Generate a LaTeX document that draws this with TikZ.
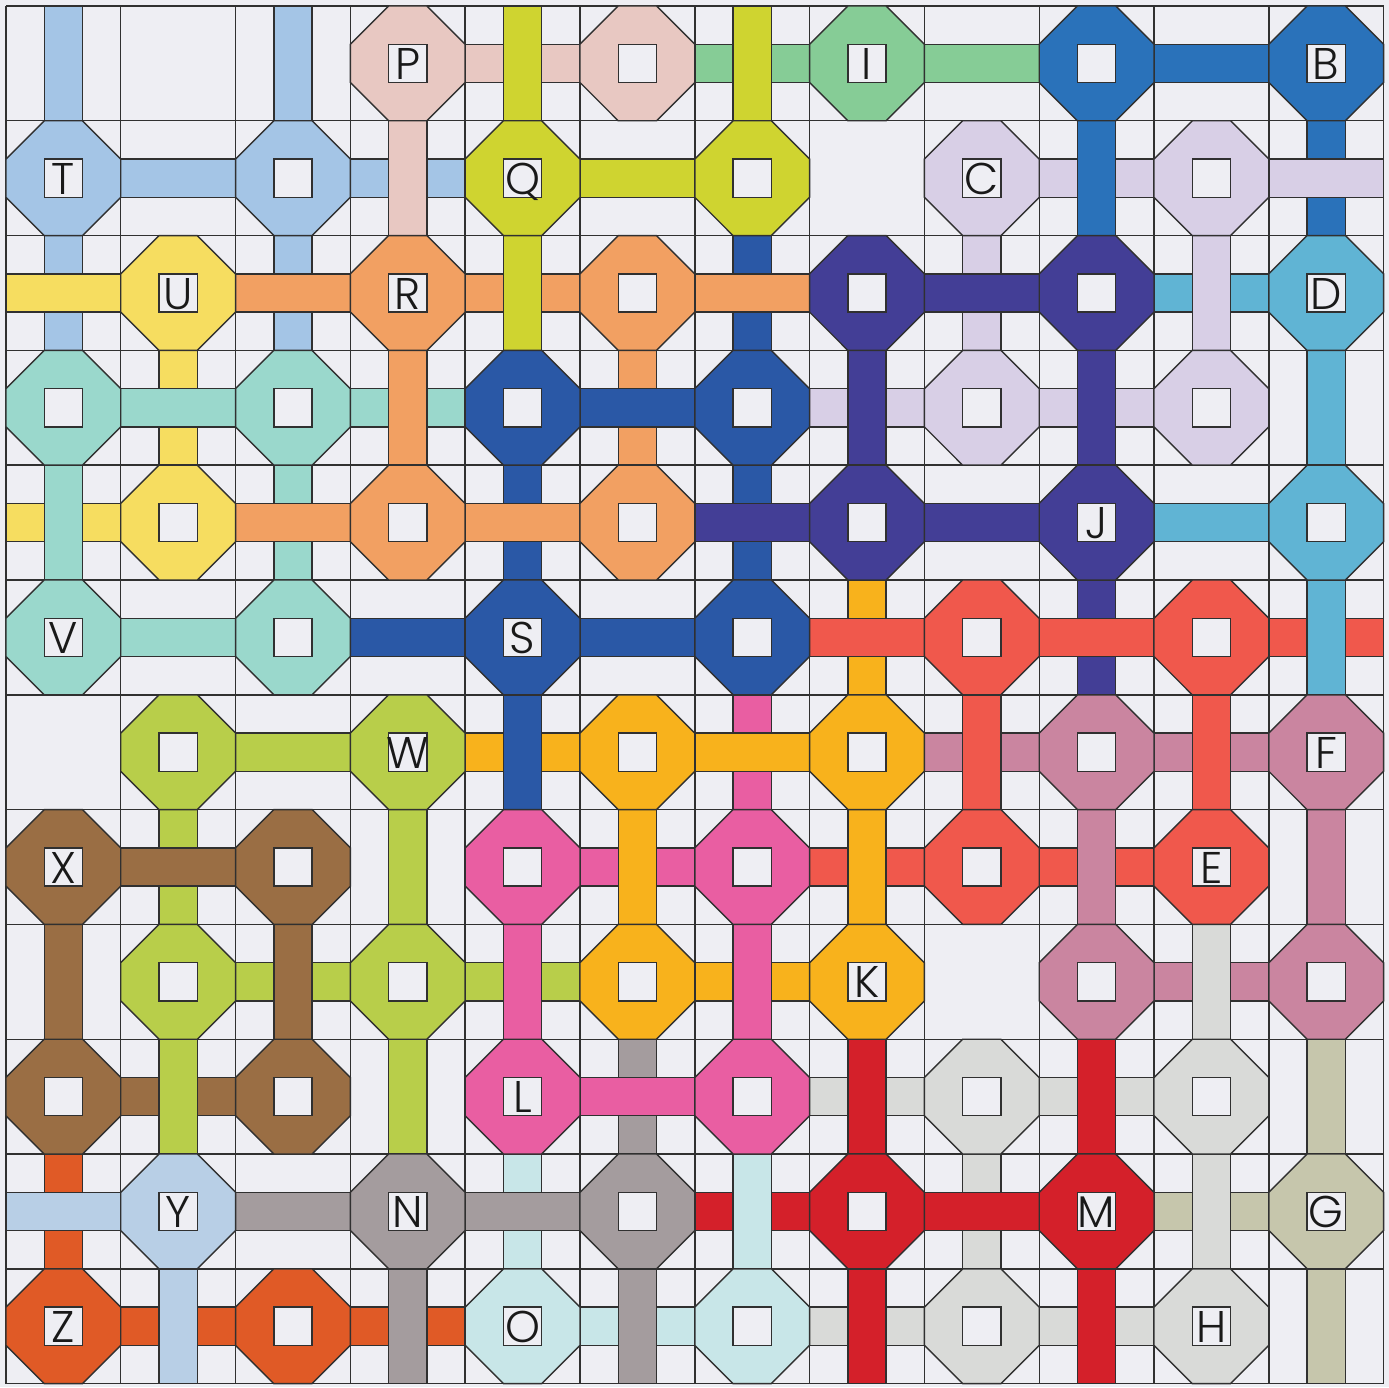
\documentclass[tikz,border=0pt]{standalone}
\usepackage{fontspec}
\IfFontExistsTF{Poppins Light}{\setmainfont{Poppins Light}}{\setmainfont{Poppins}}
\definecolor{bg}{HTML}{EEEEF3}
\definecolor{lineclr}{HTML}{303030}
\definecolor{pblue}{HTML}{A4C5E6}
\definecolor{yel}{HTML}{F6DD60}
\definecolor{ora}{HTML}{F2A062}
\definecolor{ppink}{HTML}{E8C8C2}
\definecolor{yg}{HTML}{CFD430}
\definecolor{lgreen}{HTML}{86CC96}
\definecolor{mblue}{HTML}{2A72BA}
\definecolor{lav}{HTML}{D8CFE6}
\definecolor{sky}{HTML}{60B4D4}
\definecolor{indigo}{HTML}{433E96}
\definecolor{dblue}{HTML}{2A58A6}
\definecolor{mint}{HTML}{9AD8CC}
\definecolor{red}{HTML}{F0584C}
\definecolor{gold}{HTML}{F8B21C}
\definecolor{mauve}{HTML}{CA85A0}
\definecolor{lime}{HTML}{B8CE4A}
\definecolor{brown}{HTML}{9A6E44}
\definecolor{hpink}{HTML}{E95EA2}
\definecolor{lgray}{HTML}{D9DAD8}
\definecolor{crim}{HTML}{D4202A}
\definecolor{taupe}{HTML}{A49C9E}
\definecolor{pcyan}{HTML}{C8E6E8}
\definecolor{pblue2}{HTML}{B8CFE6}
\definecolor{olive}{HTML}{C6C6AC}
\definecolor{zora}{HTML}{E05A26}
\tikzset{
  outl/.style={draw=lineclr, line width=0.35pt, line join=miter},
  gridln/.style={draw=lineclr, line width=0.35pt},
  lbl/.style={font=\fontsize{11}{11}\selectfont, text=black!90, inner sep=0pt, anchor=base},
}
\newcommand\mkH[3]{\filldraw[outl, fill=#3] (#1,-#2-1/3) rectangle (#1+1,-#2-2/3);}
\newcommand\mkV[3]{\filldraw[outl, fill=#3] (#1+1/3,-#2) rectangle (#1+2/3,-#2-1);}
\newcommand\mkO[3]{%
  \filldraw[outl, fill=#3] (#1+1/3,-#2) -- (#1+2/3,-#2) -- (#1+1,-#2-1/3) -- (#1+1,-#2-2/3)
    -- (#1+2/3,-#2-1) -- (#1+1/3,-#2-1) -- (#1,-#2-2/3) -- (#1,-#2-1/3) -- cycle;
  \filldraw[outl, fill=bg] (#1+1/3,-#2-1/3) rectangle (#1+2/3,-#2-2/3);
  \coordinate (o-#1-#2) at (#1+0.5,-#2-0.5);}
\begin{document}
\begin{tikzpicture}
\useasboundingbox (-0.052,0.052) rectangle (12.047,-12.03);
\fill[bg] (-0.052,0.052) rectangle (12.047,-12.03);
\draw[gridln] (0,-12) grid (12,0);
% single bars
\foreach \c/\r/\k in {8/0/lgreen,10/0/mblue,1/1/pblue,5/1/yg,8/4/indigo,10/4/sky,1/5/mint,3/5/dblue,5/5/dblue,2/6/lime,2/10/taupe}
  {\mkH{\c}{\r}{\k}}
\foreach \c/\r/\k in {0/0/pblue,2/0/pblue,11/3/sky,3/7/lime,11/7/mauve,0/8/brown,3/9/lime,11/9/olive,11/11/olive}
  {\mkV{\c}{\r}{\k}}
% crossings: horizontal below, vertical on top
\foreach \c/\r/\h/\v in {4/0/ppink/yg,6/0/lgreen/yg,3/1/pblue/ppink,9/1/lav/mblue,4/2/ora/yg,10/2/sky/lav,
  3/3/mint/ora,7/3/lav/indigo,9/3/lav/indigo,0/4/yel/mint,11/5/red/sky,4/6/gold/dblue,8/6/mauve/red,
  10/6/mauve/red,5/7/hpink/gold,7/7/red/gold,9/7/red/mauve,2/8/lime/brown,4/8/lime/hpink,6/8/gold/hpink,
  10/8/mauve/lgray,1/9/brown/lime,7/9/lgray/crim,9/9/lgray/crim,6/10/crim/pcyan,10/10/olive/lgray,
  1/11/zora/pblue2,3/11/zora/taupe,5/11/pcyan/taupe,7/11/lgray/crim,9/11/lgray/crim}
  {\mkH{\c}{\r}{\h}\mkV{\c}{\r}{\v}}
% crossings: vertical below, horizontal on top
\foreach \c/\r/\v/\h in {11/1/mblue/lav,0/2/pblue/yel,2/2/pblue/ora,6/2/dblue/ora,8/2/lav/indigo,1/3/yel/mint,
  5/3/ora/dblue,2/4/mint/ora,4/4/dblue/ora,6/4/dblue/indigo,7/5/gold/red,9/5/indigo/red,6/6/hpink/gold,
  1/7/lime/brown,5/9/taupe/hpink,0/10/zora/pblue2,4/10/pcyan/taupe,8/10/lgray/crim}
  {\mkV{\c}{\r}{\v}\mkH{\c}{\r}{\h}}
% octagons
\foreach \c/\r/\k in {3/0/ppink,5/0/ppink,7/0/lgreen,9/0/mblue,11/0/mblue,
  0/1/pblue,2/1/pblue,4/1/yg,6/1/yg,8/1/lav,10/1/lav,
  1/2/yel,3/2/ora,5/2/ora,7/2/indigo,9/2/indigo,11/2/sky,
  0/3/mint,2/3/mint,4/3/dblue,6/3/dblue,8/3/lav,10/3/lav,
  1/4/yel,3/4/ora,5/4/ora,7/4/indigo,9/4/indigo,11/4/sky,
  0/5/mint,2/5/mint,4/5/dblue,6/5/dblue,8/5/red,10/5/red,
  1/6/lime,3/6/lime,5/6/gold,7/6/gold,9/6/mauve,11/6/mauve,
  0/7/brown,2/7/brown,4/7/hpink,6/7/hpink,8/7/red,10/7/red,
  1/8/lime,3/8/lime,5/8/gold,7/8/gold,9/8/mauve,11/8/mauve,
  0/9/brown,2/9/brown,4/9/hpink,6/9/hpink,8/9/lgray,10/9/lgray,
  1/10/pblue2,3/10/taupe,5/10/taupe,7/10/crim,9/10/crim,11/10/olive,
  0/11/zora,2/11/zora,4/11/pcyan,6/11/pcyan,8/11/lgray,10/11/lgray}
  {\mkO{\c}{\r}{\k}}
% labels
\node[lbl] (lab-P) at (3.5,-0.64) {P};
\node[lbl] (lab-I) at (7.5,-0.64) {I};
\node[lbl] (lab-B) at (11.5,-0.64) {B};
\node[lbl] (lab-T) at (0.5,-1.64) {T};
\node[lbl] (lab-Q) at (4.5,-1.64) {Q};
\node[lbl] (lab-C) at (8.5,-1.64) {C};
\node[lbl] (lab-U) at (1.5,-2.64) {U};
\node[lbl] (lab-R) at (3.5,-2.64) {R};
\node[lbl] (lab-D) at (11.5,-2.64) {D};
\node[lbl] (lab-J) at (9.5,-4.64) {J};
\node[lbl] (lab-V) at (0.5,-5.64) {V};
\node[lbl] (lab-S) at (4.5,-5.64) {S};
\node[lbl] (lab-W) at (3.5,-6.64) {W};
\node[lbl] (lab-F) at (11.5,-6.64) {F};
\node[lbl] (lab-X) at (0.5,-7.64) {X};
\node[lbl] (lab-E) at (10.5,-7.64) {E};
\node[lbl] (lab-K) at (7.5,-8.64) {K};
\node[lbl] (lab-L) at (4.5,-9.64) {L};
\node[lbl] (lab-Y) at (1.5,-10.64) {Y};
\node[lbl] (lab-N) at (3.5,-10.64) {N};
\node[lbl] (lab-M) at (9.5,-10.64) {M};
\node[lbl] (lab-G) at (11.5,-10.64) {G};
\node[lbl] (lab-Z) at (0.5,-11.64) {Z};
\node[lbl] (lab-O) at (4.5,-11.64) {O};
\node[lbl] (lab-H) at (10.5,-11.64) {H};
\end{tikzpicture}
\end{document}
